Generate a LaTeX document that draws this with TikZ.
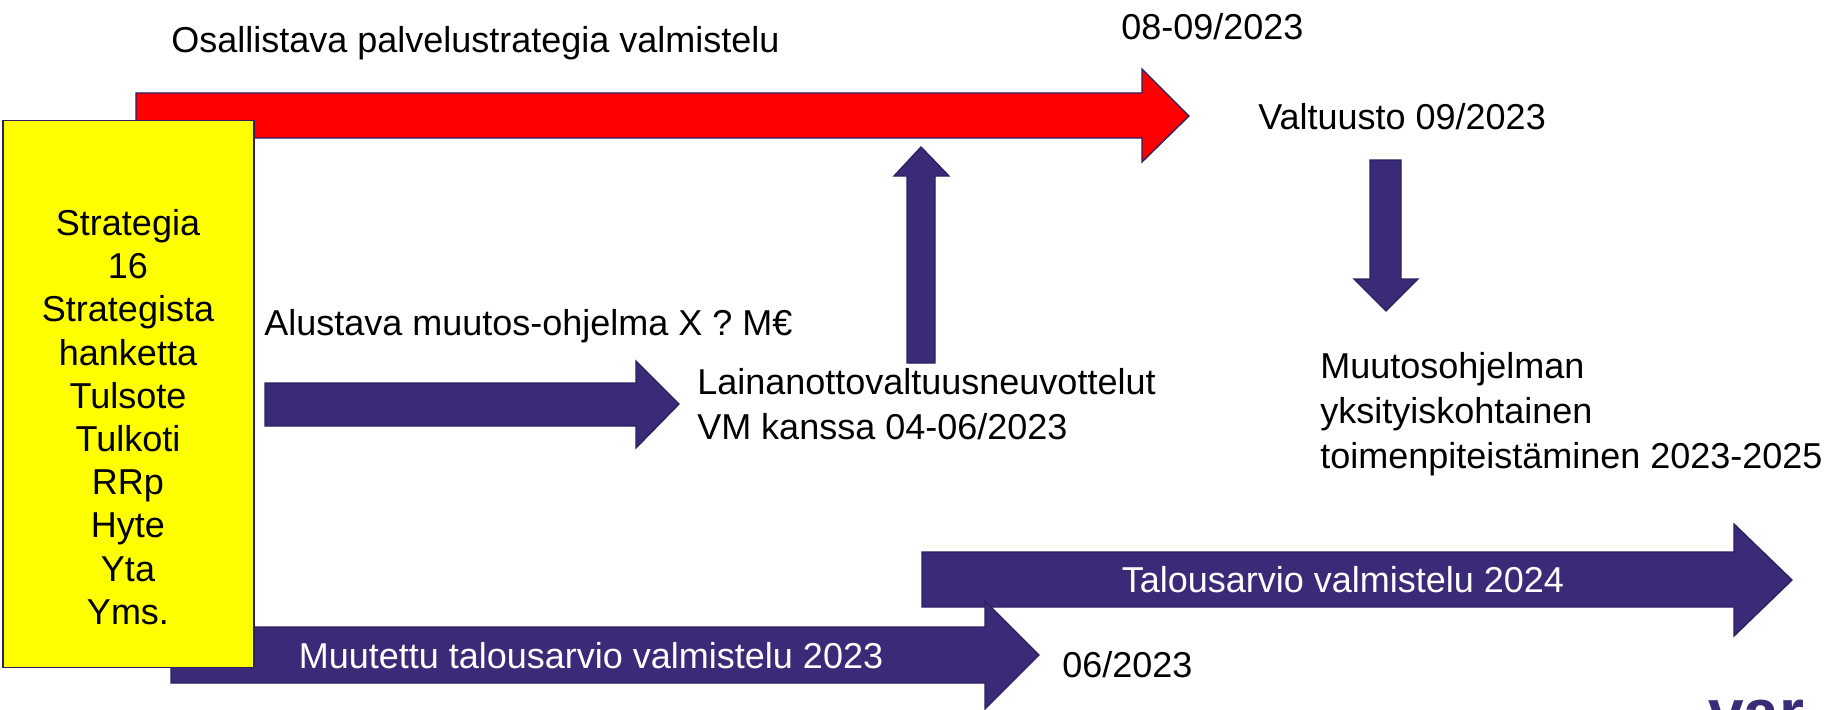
\documentclass[tikz,border=0pt]{standalone}
\usepackage{fontspec}
\setmainfont{Liberation Sans}
\definecolor{arrowfill}{HTML}{3B2A78}
\definecolor{arrowline}{HTML}{2C2063}
\definecolor{boxyellow}{HTML}{FFFF00}
\definecolor{arrowred}{HTML}{FF0000}
\tikzset{
  blockarrow/.style={fill=arrowfill,draw=arrowline,line width=1pt,line join=miter},
  redarrow/.style={fill=arrowred,draw=arrowline,line width=1pt,line join=miter},
  label/.style={inner sep=0pt,anchor=base west,font=\fontsize{27}{32.4}\selectfont,text=black},
  multi/.style={inner sep=0pt,anchor=west,align=left,font=\fontsize{27}{33.75}\selectfont,text=black},
  onarrow/.style={inner sep=0pt,anchor=center,font=\fontsize{27}{32.4}\selectfont,text=white},
  yellowbox/.style={fill=boxyellow,draw=arrowline,line width=1pt,inner sep=0pt,
    minimum width=251*0.75pt,minimum height=547*0.75pt},
  boxtext/.style={inner sep=0pt,align=center,font=\fontsize{27}{32.4}\selectfont,text=black}
}
\begin{document}
\begin{tikzpicture}[x=0.75pt,y=-0.75pt]
\useasboundingbox (0,0) rectangle (1825,710);
\clip (0,0) rectangle (1825,710);
% red arrow
\path[redarrow] (136,93) -- (1142,93) -- (1142,69) -- (1189,116) -- (1142,162) -- (1142,138) -- (136,138) -- cycle;
% budget arrows
\path[blockarrow] (922,552) -- (1734,552) -- (1734,524) -- (1792,580) -- (1734,636) -- (1734,607) -- (922,607) -- cycle;
\path[blockarrow] (171,627) -- (985,627) -- (985,601) -- (1039,655) -- (985,709) -- (985,683) -- (171,683) -- cycle;
% programme arrow
\path[blockarrow] (265,383) -- (636,383) -- (636,361) -- (679,404) -- (636,448) -- (636,426) -- (265,426) -- cycle;
% up arrow
\path[blockarrow] (907,363) -- (907,176) -- (894,176) -- (921,147) -- (949,176) -- (935,176) -- (935,363) -- cycle;
% down arrow
\path[blockarrow] (1370,160) -- (1401,160) -- (1401,279) -- (1418,279) -- (1386,311) -- (1354,279) -- (1370,279) -- cycle;
% yellow box
\node[yellowbox] (strategy) at (128.5,394) {};
\node[boxtext] (strategytext) at (128,417) {Strategia\\16\\Strategista\\hanketta\\Tulsote\\Tulkoti\\RRp\\Hyte\\Yta\\Yms.};
% texts
\node[label] (prep) at (171,53) {Osallistava palvelustrategia valmistelu};
\node[label] (date) at (1121,40) {08-09/2023};
\node[label] (council) at (1258,129) {Valtuusto 09/2023};
\node[label] (prelim) at (264,335) {Alustava muutos-ohjelma X ? M€};
\node[multi] (loan) at (697,404) {Lainanottovaltuusneuvottelut\\VM kanssa 04-06/2023};
\node[multi] (detail) at (1320,414) {Muutosohjelman\\yksityiskohtainen\\toimenpiteistäminen 2023-2025};
\node[onarrow] (budgetb) at (1343,580) {Talousarvio valmistelu 2024};
\node[onarrow] (budgeta) at (591,656) {Muutettu talousarvio valmistelu 2023};
\node[label] (june) at (1062,677) {06/2023};
\node[inner sep=0pt,anchor=base west,font=\fontsize{48}{48}\bfseries\selectfont,text=arrowfill] (logo) at (1708,734) {var};
\end{tikzpicture}
\end{document}
